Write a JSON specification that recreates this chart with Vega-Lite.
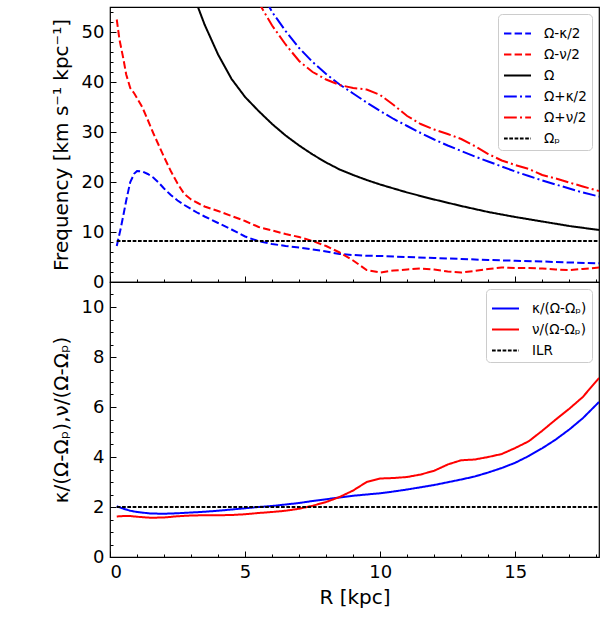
{
  "$schema": "https://vega.github.io/schema/vega-lite/v6.json",
  "padding": {"left": 50, "top": 6, "right": 5, "bottom": 5},
  "spacing": 0,
  "bounds": "flush",
  "config": {
    "font": "DejaVu Sans",
    "view": {"stroke": "black", "strokeWidth": 1.2},
    "axis": {"domain": false, "grid": false, "tickColor": "black", "labelColor": "black", "titleColor": "black", "labelFont": "DejaVu Sans", "titleFont": "DejaVu Sans", "labelFontSize": 18, "titleFontSize": 20, "titleFontWeight": "normal", "tickSize": -6, "labelPadding": 12, "tickWidth": 1},
    "legend": {"orient": "top-right", "offset": 7, "fillColor": "white", "strokeColor": "#cccccc", "cornerRadius": 4, "padding": 5, "symbolType": "stroke", "symbolSize": 729, "labelFontSize": 13.5, "labelFont": "DejaVu Sans", "labelColor": "black", "labelOffset": 12, "rowPadding": -5, "title": null}
  },
  "datasets": {
    "top": [
      {"s": "Ω-κ/2", "R": 0.25, "v": 7.2}, {"s": "Ω-κ/2", "R": 0.4, "v": 10.8}, {"s": "Ω-κ/2", "R": 0.5, "v": 13.5}, {"s": "Ω-κ/2", "R": 0.6, "v": 16.3}, {"s": "Ω-κ/2", "R": 0.75, "v": 20.0}, {"s": "Ω-κ/2", "R": 0.9, "v": 21.7}, {"s": "Ω-κ/2", "R": 1.0, "v": 22.2}, {"s": "Ω-κ/2", "R": 1.2, "v": 22.1}, {"s": "Ω-κ/2", "R": 1.4, "v": 21.6}, {"s": "Ω-κ/2", "R": 1.6, "v": 20.9}, {"s": "Ω-κ/2", "R": 1.8, "v": 19.9}, {"s": "Ω-κ/2", "R": 2.0, "v": 18.7}, {"s": "Ω-κ/2", "R": 2.25, "v": 17.4}, {"s": "Ω-κ/2", "R": 2.5, "v": 16.3}, {"s": "Ω-κ/2", "R": 2.75, "v": 15.4}, {"s": "Ω-κ/2", "R": 3.0, "v": 14.6}, {"s": "Ω-κ/2", "R": 3.25, "v": 13.8}, {"s": "Ω-κ/2", "R": 3.5, "v": 13.1}, {"s": "Ω-κ/2", "R": 4.0, "v": 11.8}, {"s": "Ω-κ/2", "R": 4.5, "v": 10.5}, {"s": "Ω-κ/2", "R": 5.0, "v": 9.1}, {"s": "Ω-κ/2", "R": 5.5, "v": 8.15}, {"s": "Ω-κ/2", "R": 6.0, "v": 7.6}, {"s": "Ω-κ/2", "R": 6.5, "v": 7.2}, {"s": "Ω-κ/2", "R": 7.0, "v": 6.9}, {"s": "Ω-κ/2", "R": 7.5, "v": 6.5}, {"s": "Ω-κ/2", "R": 8.0, "v": 6.1}, {"s": "Ω-κ/2", "R": 8.5, "v": 5.6}, {"s": "Ω-κ/2", "R": 9.0, "v": 5.4}, {"s": "Ω-κ/2", "R": 9.5, "v": 5.25}, {"s": "Ω-κ/2", "R": 10, "v": 5.2}, {"s": "Ω-κ/2", "R": 11, "v": 5.0}, {"s": "Ω-κ/2", "R": 12, "v": 4.8}, {"s": "Ω-κ/2", "R": 13, "v": 4.6}, {"s": "Ω-κ/2", "R": 14, "v": 4.4}, {"s": "Ω-κ/2", "R": 15, "v": 4.25}, {"s": "Ω-κ/2", "R": 16, "v": 4.1}, {"s": "Ω-κ/2", "R": 17, "v": 3.9}, {"s": "Ω-κ/2", "R": 18.1, "v": 3.75},
      {"s": "Ω-ν/2", "R": 0.25, "v": 52.5}, {"s": "Ω-ν/2", "R": 0.35, "v": 48.5}, {"s": "Ω-ν/2", "R": 0.5, "v": 44.5}, {"s": "Ω-ν/2", "R": 0.6, "v": 41.5}, {"s": "Ω-ν/2", "R": 0.75, "v": 38.8}, {"s": "Ω-ν/2", "R": 0.9, "v": 37.7}, {"s": "Ω-ν/2", "R": 1.0, "v": 36.8}, {"s": "Ω-ν/2", "R": 1.2, "v": 34.9}, {"s": "Ω-ν/2", "R": 1.4, "v": 32.4}, {"s": "Ω-ν/2", "R": 1.6, "v": 29.8}, {"s": "Ω-ν/2", "R": 1.8, "v": 27.4}, {"s": "Ω-ν/2", "R": 2.0, "v": 25.0}, {"s": "Ω-ν/2", "R": 2.25, "v": 22.2}, {"s": "Ω-ν/2", "R": 2.5, "v": 19.7}, {"s": "Ω-ν/2", "R": 2.75, "v": 17.6}, {"s": "Ω-ν/2", "R": 3.0, "v": 16.5}, {"s": "Ω-ν/2", "R": 3.25, "v": 15.8}, {"s": "Ω-ν/2", "R": 3.5, "v": 15.1}, {"s": "Ω-ν/2", "R": 4.0, "v": 14.2}, {"s": "Ω-ν/2", "R": 4.5, "v": 13.2}, {"s": "Ω-ν/2", "R": 5.0, "v": 12.2}, {"s": "Ω-ν/2", "R": 5.5, "v": 11.0}, {"s": "Ω-ν/2", "R": 6.0, "v": 10.3}, {"s": "Ω-ν/2", "R": 6.5, "v": 9.6}, {"s": "Ω-ν/2", "R": 7.0, "v": 9.0}, {"s": "Ω-ν/2", "R": 7.5, "v": 8.2}, {"s": "Ω-ν/2", "R": 8.0, "v": 7.2}, {"s": "Ω-ν/2", "R": 8.5, "v": 5.9}, {"s": "Ω-ν/2", "R": 9.0, "v": 4.3}, {"s": "Ω-ν/2", "R": 9.5, "v": 2.4}, {"s": "Ω-ν/2", "R": 10.0, "v": 1.9}, {"s": "Ω-ν/2", "R": 10.5, "v": 2.3}, {"s": "Ω-ν/2", "R": 11, "v": 2.5}, {"s": "Ω-ν/2", "R": 11.5, "v": 2.7}, {"s": "Ω-ν/2", "R": 12, "v": 2.5}, {"s": "Ω-ν/2", "R": 12.5, "v": 2.1}, {"s": "Ω-ν/2", "R": 13, "v": 1.9}, {"s": "Ω-ν/2", "R": 13.5, "v": 2.2}, {"s": "Ω-ν/2", "R": 14, "v": 2.6}, {"s": "Ω-ν/2", "R": 14.5, "v": 2.9}, {"s": "Ω-ν/2", "R": 15, "v": 2.8}, {"s": "Ω-ν/2", "R": 15.5, "v": 2.8}, {"s": "Ω-ν/2", "R": 16, "v": 2.7}, {"s": "Ω-ν/2", "R": 16.5, "v": 2.5}, {"s": "Ω-ν/2", "R": 17, "v": 2.4}, {"s": "Ω-ν/2", "R": 17.5, "v": 2.6}, {"s": "Ω-ν/2", "R": 18.1, "v": 2.9},
      {"s": "Ω", "R": 3.15, "v": 56.5}, {"s": "Ω", "R": 3.5, "v": 51.5}, {"s": "Ω", "R": 4.0, "v": 45.5}, {"s": "Ω", "R": 4.5, "v": 40.6}, {"s": "Ω", "R": 5.0, "v": 37.0}, {"s": "Ω", "R": 5.5, "v": 34.2}, {"s": "Ω", "R": 6.0, "v": 31.6}, {"s": "Ω", "R": 6.5, "v": 29.3}, {"s": "Ω", "R": 7.0, "v": 27.3}, {"s": "Ω", "R": 7.5, "v": 25.5}, {"s": "Ω", "R": 8.0, "v": 23.9}, {"s": "Ω", "R": 8.5, "v": 22.5}, {"s": "Ω", "R": 9.0, "v": 21.4}, {"s": "Ω", "R": 9.5, "v": 20.4}, {"s": "Ω", "R": 10, "v": 19.5}, {"s": "Ω", "R": 11, "v": 17.9}, {"s": "Ω", "R": 12, "v": 16.5}, {"s": "Ω", "R": 13, "v": 15.2}, {"s": "Ω", "R": 14, "v": 14.0}, {"s": "Ω", "R": 15, "v": 13.0}, {"s": "Ω", "R": 16, "v": 12.1}, {"s": "Ω", "R": 17, "v": 11.2}, {"s": "Ω", "R": 18.1, "v": 10.4},
      {"s": "Ω+κ/2", "R": 5.75, "v": 56.5}, {"s": "Ω+κ/2", "R": 6.0, "v": 54.0}, {"s": "Ω+κ/2", "R": 6.5, "v": 50.2}, {"s": "Ω+κ/2", "R": 7.0, "v": 46.8}, {"s": "Ω+κ/2", "R": 7.5, "v": 44.0}, {"s": "Ω+κ/2", "R": 8.0, "v": 41.6}, {"s": "Ω+κ/2", "R": 8.5, "v": 39.5}, {"s": "Ω+κ/2", "R": 9.0, "v": 37.7}, {"s": "Ω+κ/2", "R": 9.5, "v": 35.9}, {"s": "Ω+κ/2", "R": 10, "v": 34.2}, {"s": "Ω+κ/2", "R": 10.5, "v": 32.6}, {"s": "Ω+κ/2", "R": 11, "v": 31.2}, {"s": "Ω+κ/2", "R": 11.5, "v": 29.8}, {"s": "Ω+κ/2", "R": 12, "v": 28.5}, {"s": "Ω+κ/2", "R": 12.5, "v": 27.3}, {"s": "Ω+κ/2", "R": 13, "v": 26.2}, {"s": "Ω+κ/2", "R": 13.5, "v": 25.1}, {"s": "Ω+κ/2", "R": 14, "v": 24.1}, {"s": "Ω+κ/2", "R": 14.5, "v": 23.1}, {"s": "Ω+κ/2", "R": 15, "v": 22.1}, {"s": "Ω+κ/2", "R": 15.5, "v": 21.2}, {"s": "Ω+κ/2", "R": 16, "v": 20.3}, {"s": "Ω+κ/2", "R": 16.5, "v": 19.5}, {"s": "Ω+κ/2", "R": 17, "v": 18.7}, {"s": "Ω+κ/2", "R": 17.5, "v": 17.9}, {"s": "Ω+κ/2", "R": 18.1, "v": 17.1},
      {"s": "Ω+ν/2", "R": 5.45, "v": 56.5}, {"s": "Ω+ν/2", "R": 5.6, "v": 55.0}, {"s": "Ω+ν/2", "R": 6.0, "v": 51.3}, {"s": "Ω+ν/2", "R": 6.5, "v": 47.5}, {"s": "Ω+ν/2", "R": 7.0, "v": 44.2}, {"s": "Ω+ν/2", "R": 7.5, "v": 42.0}, {"s": "Ω+ν/2", "R": 8.0, "v": 40.5}, {"s": "Ω+ν/2", "R": 8.5, "v": 39.4}, {"s": "Ω+ν/2", "R": 9.0, "v": 38.8}, {"s": "Ω+ν/2", "R": 9.5, "v": 38.5}, {"s": "Ω+ν/2", "R": 10, "v": 37.4}, {"s": "Ω+ν/2", "R": 10.5, "v": 35.4}, {"s": "Ω+ν/2", "R": 11, "v": 33.2}, {"s": "Ω+ν/2", "R": 11.5, "v": 31.6}, {"s": "Ω+ν/2", "R": 12, "v": 30.5}, {"s": "Ω+ν/2", "R": 12.5, "v": 29.6}, {"s": "Ω+ν/2", "R": 13, "v": 28.6}, {"s": "Ω+ν/2", "R": 13.5, "v": 27.2}, {"s": "Ω+ν/2", "R": 14, "v": 25.6}, {"s": "Ω+ν/2", "R": 14.5, "v": 24.3}, {"s": "Ω+ν/2", "R": 15, "v": 23.4}, {"s": "Ω+ν/2", "R": 15.5, "v": 22.6}, {"s": "Ω+ν/2", "R": 16, "v": 21.4}, {"s": "Ω+ν/2", "R": 16.5, "v": 20.7}, {"s": "Ω+ν/2", "R": 17, "v": 19.9}, {"s": "Ω+ν/2", "R": 17.5, "v": 19.1}, {"s": "Ω+ν/2", "R": 18.1, "v": 18.2},
      {"s": "Ωₚ", "R": 0.25, "v": 8.2}, {"s": "Ωₚ", "R": 18.1, "v": 8.2}
    ],
    "bottom": [
      {"s": "κ/(Ω-Ωₚ)", "R": 0.25, "v": 2.03}, {"s": "κ/(Ω-Ωₚ)", "R": 0.5, "v": 1.93}, {"s": "κ/(Ω-Ωₚ)", "R": 0.75, "v": 1.85}, {"s": "κ/(Ω-Ωₚ)", "R": 1.0, "v": 1.8}, {"s": "κ/(Ω-Ωₚ)", "R": 1.5, "v": 1.74}, {"s": "κ/(Ω-Ωₚ)", "R": 2.0, "v": 1.73}, {"s": "κ/(Ω-Ωₚ)", "R": 2.5, "v": 1.75}, {"s": "κ/(Ω-Ωₚ)", "R": 3.0, "v": 1.78}, {"s": "κ/(Ω-Ωₚ)", "R": 3.5, "v": 1.81}, {"s": "κ/(Ω-Ωₚ)", "R": 4.0, "v": 1.85}, {"s": "κ/(Ω-Ωₚ)", "R": 4.5, "v": 1.9}, {"s": "κ/(Ω-Ωₚ)", "R": 5.0, "v": 1.95}, {"s": "κ/(Ω-Ωₚ)", "R": 5.5, "v": 2.0}, {"s": "κ/(Ω-Ωₚ)", "R": 6.0, "v": 2.04}, {"s": "κ/(Ω-Ωₚ)", "R": 6.5, "v": 2.1}, {"s": "κ/(Ω-Ωₚ)", "R": 7.0, "v": 2.16}, {"s": "κ/(Ω-Ωₚ)", "R": 7.5, "v": 2.24}, {"s": "κ/(Ω-Ωₚ)", "R": 8.0, "v": 2.31}, {"s": "κ/(Ω-Ωₚ)", "R": 8.5, "v": 2.38}, {"s": "κ/(Ω-Ωₚ)", "R": 9.0, "v": 2.45}, {"s": "κ/(Ω-Ωₚ)", "R": 9.5, "v": 2.5}, {"s": "κ/(Ω-Ωₚ)", "R": 10, "v": 2.55}, {"s": "κ/(Ω-Ωₚ)", "R": 10.5, "v": 2.62}, {"s": "κ/(Ω-Ωₚ)", "R": 11, "v": 2.7}, {"s": "κ/(Ω-Ωₚ)", "R": 11.5, "v": 2.79}, {"s": "κ/(Ω-Ωₚ)", "R": 12, "v": 2.88}, {"s": "κ/(Ω-Ωₚ)", "R": 12.5, "v": 2.99}, {"s": "κ/(Ω-Ωₚ)", "R": 13, "v": 3.1}, {"s": "κ/(Ω-Ωₚ)", "R": 13.5, "v": 3.22}, {"s": "κ/(Ω-Ωₚ)", "R": 14, "v": 3.38}, {"s": "κ/(Ω-Ωₚ)", "R": 14.5, "v": 3.56}, {"s": "κ/(Ω-Ωₚ)", "R": 15, "v": 3.77}, {"s": "κ/(Ω-Ωₚ)", "R": 15.5, "v": 4.04}, {"s": "κ/(Ω-Ωₚ)", "R": 16, "v": 4.35}, {"s": "κ/(Ω-Ωₚ)", "R": 16.5, "v": 4.7}, {"s": "κ/(Ω-Ωₚ)", "R": 17, "v": 5.1}, {"s": "κ/(Ω-Ωₚ)", "R": 17.5, "v": 5.55}, {"s": "κ/(Ω-Ωₚ)", "R": 18.1, "v": 6.2},
      {"s": "ν/(Ω-Ωₚ)", "R": 0.25, "v": 1.62}, {"s": "ν/(Ω-Ωₚ)", "R": 0.5, "v": 1.64}, {"s": "ν/(Ω-Ωₚ)", "R": 0.75, "v": 1.64}, {"s": "ν/(Ω-Ωₚ)", "R": 1.0, "v": 1.61}, {"s": "ν/(Ω-Ωₚ)", "R": 1.5, "v": 1.57}, {"s": "ν/(Ω-Ωₚ)", "R": 2.0, "v": 1.58}, {"s": "ν/(Ω-Ωₚ)", "R": 2.5, "v": 1.63}, {"s": "ν/(Ω-Ωₚ)", "R": 3.0, "v": 1.66}, {"s": "ν/(Ω-Ωₚ)", "R": 3.5, "v": 1.67}, {"s": "ν/(Ω-Ωₚ)", "R": 4.0, "v": 1.67}, {"s": "ν/(Ω-Ωₚ)", "R": 4.5, "v": 1.68}, {"s": "ν/(Ω-Ωₚ)", "R": 5.0, "v": 1.71}, {"s": "ν/(Ω-Ωₚ)", "R": 5.5, "v": 1.76}, {"s": "ν/(Ω-Ωₚ)", "R": 6.0, "v": 1.8}, {"s": "ν/(Ω-Ωₚ)", "R": 6.5, "v": 1.85}, {"s": "ν/(Ω-Ωₚ)", "R": 7.0, "v": 1.93}, {"s": "ν/(Ω-Ωₚ)", "R": 7.5, "v": 2.05}, {"s": "ν/(Ω-Ωₚ)", "R": 8.0, "v": 2.2}, {"s": "ν/(Ω-Ωₚ)", "R": 8.5, "v": 2.4}, {"s": "ν/(Ω-Ωₚ)", "R": 9.0, "v": 2.66}, {"s": "ν/(Ω-Ωₚ)", "R": 9.5, "v": 3.0}, {"s": "ν/(Ω-Ωₚ)", "R": 10, "v": 3.14}, {"s": "ν/(Ω-Ωₚ)", "R": 10.5, "v": 3.16}, {"s": "ν/(Ω-Ωₚ)", "R": 11, "v": 3.2}, {"s": "ν/(Ω-Ωₚ)", "R": 11.5, "v": 3.3}, {"s": "ν/(Ω-Ωₚ)", "R": 12, "v": 3.45}, {"s": "ν/(Ω-Ωₚ)", "R": 12.5, "v": 3.7}, {"s": "ν/(Ω-Ωₚ)", "R": 13, "v": 3.87}, {"s": "ν/(Ω-Ωₚ)", "R": 13.5, "v": 3.9}, {"s": "ν/(Ω-Ωₚ)", "R": 14, "v": 4.0}, {"s": "ν/(Ω-Ωₚ)", "R": 14.5, "v": 4.12}, {"s": "ν/(Ω-Ωₚ)", "R": 15, "v": 4.36}, {"s": "ν/(Ω-Ωₚ)", "R": 15.5, "v": 4.63}, {"s": "ν/(Ω-Ωₚ)", "R": 16, "v": 5.05}, {"s": "ν/(Ω-Ωₚ)", "R": 16.5, "v": 5.5}, {"s": "ν/(Ω-Ωₚ)", "R": 17, "v": 5.93}, {"s": "ν/(Ω-Ωₚ)", "R": 17.5, "v": 6.4}, {"s": "ν/(Ω-Ωₚ)", "R": 18.1, "v": 7.16},
      {"s": "ILR", "R": 0.25, "v": 2.0}, {"s": "ILR", "R": 18.1, "v": 2.0}
    ],
    "origin": [{"R": 0, "v": 0}]
  },
  "vconcat": [
    {
      "width": 489,
      "height": 275,
      "layer": [
        {
          "data": {"name": "top"},
          "mark": {"type": "line", "clip": true},
          "encoding": {
            "x": {"field": "R", "type": "quantitative", "scale": {"domain": [0, 18.1], "nice": false, "zero": false}, "axis": {"orient": "bottom", "values": [0, 5, 10, 15], "labels": false, "title": null}},
            "y": {"field": "v", "type": "quantitative", "scale": {"domain": [0, 55], "nice": false}, "axis": {"orient": "left", "values": [0, 10, 20, 30, 40, 50], "title": "Frequency [km s⁻¹ kpc⁻¹]", "titlePadding": 10}},
            "color": {"field": "s", "type": "nominal", "scale": {"domain": ["Ω-κ/2", "Ω-ν/2", "Ω", "Ω+κ/2", "Ω+ν/2", "Ωₚ"], "range": ["#0000ff", "#ff0000", "#000000", "#0000ff", "#ff0000", "#000000"]}, "legend": {"title": null}},
            "strokeDash": {"field": "s", "type": "nominal", "scale": {"domain": ["Ω-κ/2", "Ω-ν/2", "Ω", "Ω+κ/2", "Ω+ν/2", "Ωₚ"], "range": [[7.4, 3.2], [7.4, 3.2], [1, 0], [12.8, 3.2, 2, 3.2], [12.8, 3.2, 2, 3.2], [3.7, 1.6]]}, "legend": {"title": null}},
            "strokeWidth": {"field": "s", "type": "nominal", "scale": {"domain": ["Ω-κ/2", "Ω-ν/2", "Ω", "Ω+κ/2", "Ω+ν/2", "Ωₚ"], "range": [2, 2, 2, 2, 2, 1]}, "legend": {"title": null}}
          }
        },
        {
          "data": {"name": "origin"},
          "mark": {"type": "point", "opacity": 0},
          "encoding": {
            "x": {"field": "R", "type": "quantitative", "scale": {"domain": [0, 18.1], "nice": false, "zero": false}, "axis": {"orient": "bottom", "values": [1, 2, 3, 4, 6, 7, 8, 9, 11, 12, 13, 14, 16, 17, 18], "labels": false, "title": null, "tickSize": -3}},
            "y": {"field": "v", "type": "quantitative", "scale": {"domain": [0, 55], "nice": false}, "axis": {"orient": "left", "values": [2, 4, 6, 8, 12, 14, 16, 18, 22, 24, 26, 28, 32, 34, 36, 38, 42, 44, 46, 48, 52, 54], "labels": false, "title": null, "tickSize": -3}}
          }
        }
      ],
      "resolve": {"axis": {"x": "independent", "y": "independent"}}
    },
    {
      "width": 489,
      "height": 275,
      "layer": [
        {
          "data": {"name": "bottom"},
          "mark": {"type": "line", "clip": true},
          "encoding": {
            "x": {"field": "R", "type": "quantitative", "scale": {"domain": [0, 18.1], "nice": false, "zero": false}, "axis": {"orient": "bottom", "values": [0, 5, 10, 15], "title": "R [kpc]", "titlePadding": 6}},
            "y": {"field": "v", "type": "quantitative", "scale": {"domain": [0, 11], "nice": false}, "axis": {"orient": "left", "values": [0, 2, 4, 6, 8, 10], "title": "κ/(Ω-Ωₚ),ν/(Ω-Ωₚ)", "titlePadding": 10}},
            "color": {"field": "s", "type": "nominal", "scale": {"domain": ["κ/(Ω-Ωₚ)", "ν/(Ω-Ωₚ)", "ILR"], "range": ["#0000ff", "#ff0000", "#000000"]}, "legend": {"title": null, "rowPadding": -2.5}},
            "strokeDash": {"field": "s", "type": "nominal", "scale": {"domain": ["κ/(Ω-Ωₚ)", "ν/(Ω-Ωₚ)", "ILR"], "range": [[1, 0], [1, 0], [3.7, 1.6]]}, "legend": {"title": null, "rowPadding": -2.5}},
            "strokeWidth": {"field": "s", "type": "nominal", "scale": {"domain": ["κ/(Ω-Ωₚ)", "ν/(Ω-Ωₚ)", "ILR"], "range": [2, 2, 1]}, "legend": {"title": null, "rowPadding": -2.5}}
          }
        },
        {
          "data": {"name": "origin"},
          "mark": {"type": "point", "opacity": 0},
          "encoding": {
            "x": {"field": "R", "type": "quantitative", "scale": {"domain": [0, 18.1], "nice": false, "zero": false}, "axis": {"orient": "bottom", "values": [1, 2, 3, 4, 6, 7, 8, 9, 11, 12, 13, 14, 16, 17, 18], "labels": false, "title": null, "tickSize": -3}},
            "y": {"field": "v", "type": "quantitative", "scale": {"domain": [0, 11], "nice": false}, "axis": {"orient": "left", "values": [0.5, 1, 1.5, 2.5, 3, 3.5, 4.5, 5, 5.5, 6.5, 7, 7.5, 8.5, 9, 9.5, 10.5], "labels": false, "title": null, "tickSize": -3}}
          }
        }
      ],
      "resolve": {"axis": {"x": "independent", "y": "independent"}}
    }
  ],
  "resolve": {
    "scale": {"color": "independent", "strokeDash": "independent", "strokeWidth": "independent"},
    "legend": {"color": "independent", "strokeDash": "independent", "strokeWidth": "independent"}
  }
}
